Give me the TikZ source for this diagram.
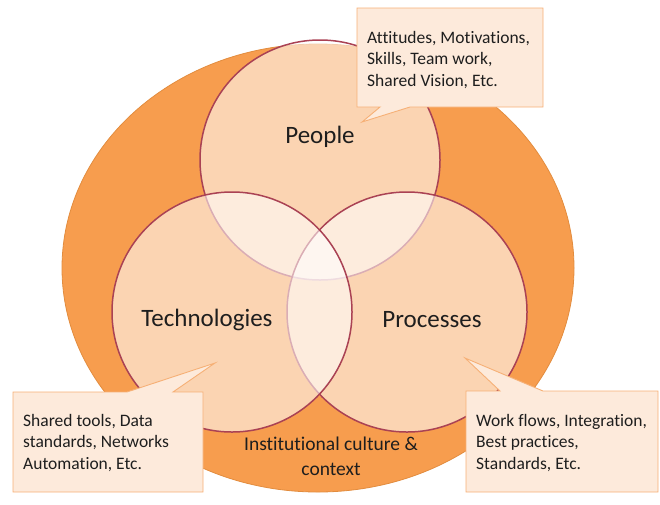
\documentclass[tikz,border=0pt]{standalone}
\usepackage{fontspec}
\setmainfont{Carlito}[Ligatures=CommonOff]
\definecolor{outerorange}{RGB}{247,157,78}
\definecolor{outeredge}{RGB}{226,140,62}
\definecolor{ringedge}{RGB}{170,66,84}
\definecolor{boxfill}{RGB}{253,234,219}
\definecolor{boxedge}{RGB}{246,176,118}
\definecolor{txt}{RGB}{30,30,30}
\tikzset{
  venn/.style={fill=white, fill opacity=0.57, draw=ringedge, draw opacity=1, line width=1.5pt},
  callout/.style={fill=boxfill, draw=boxedge, line width=0.9pt, line join=miter},
  biglabel/.style={font=\fontsize{25}{30}\selectfont, text=txt, inner sep=0pt},
  smalllabel/.style={font=\fontsize{17.5}{21.5}\selectfont, text=txt, inner sep=0pt, align=left, anchor=north west},
  ctxlabel/.style={font=\fontsize{19.5}{25}\selectfont, text=txt, inner sep=0pt, align=center}
}
\begin{document}
\begin{tikzpicture}[x=1pt,y=-1pt]
\useasboundingbox (0,0) rectangle (660,504);
% outer context ellipse
\draw[fill=outerorange, draw=outeredge, line width=0.8pt] (318,268) ellipse [x radius=256, y radius=224];
% three circles
\draw[venn] (320,160) circle [radius=120];
\draw[venn] (407,312) circle [radius=120];
\draw[venn] (232,312) circle [radius=120];
% labels
\node[biglabel] (people) at (320,137) {People};
\node[biglabel] (tech) at (207,320) {Technologies};
\node[biglabel] (proc) at (432,320) {Processes};
\node[ctxlabel] (ctx) at (331,456) {Institutional culture \&\\context};
% callouts
\draw[callout] (357,8) -- (543,8) -- (543,107) -- (410,107) -- (362,122) -- (380,107) -- (357,107) -- cycle;
\draw[callout] (13,392) -- (127,392) -- (215,363) -- (173,392) -- (203,392) -- (203,492) -- (13,492) -- cycle;
\draw[callout] (466,391) -- (500,391) -- (465,358) -- (543,391) -- (658,391) -- (658,492) -- (466,492) -- cycle;
\node[smalllabel] (ptxt) at (367,31) {Attitudes, Motivations,\\Skills, Team work,\\Shared Vision, Etc.};
\node[smalllabel] (ttxt) at (23,414) {Shared tools, Data\\standards, Networks\\Automation, Etc.};
\node[smalllabel] (rtxt) at (476,414) {Work flows, Integration,\\Best practices,\\Standards, Etc.};
\end{tikzpicture}
\end{document}
